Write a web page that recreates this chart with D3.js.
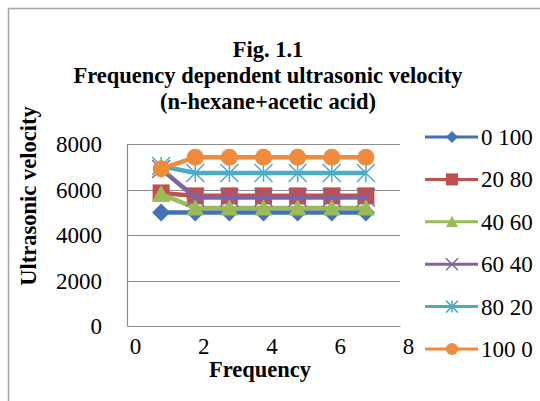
<!DOCTYPE html>
<html><head><meta charset="utf-8">
<script src="https://cdn.jsdelivr.net/npm/d3@7"></script>
<style>html,body{margin:0;padding:0;background:#fff;}svg{display:block;}</style>
</head><body>
<script>
const frequency = [1, 2, 3, 4, 5, 6, 7];
const seriesNames = ["0 100", "20 80", "40 60", "60 40", "80 20", "100 0"];
const v0_100 = [4990, 4990, 4990, 4990, 4990, 4990, 4990];
const v20_80 = [5850, 5720, 5720, 5720, 5720, 5720, 5720];
const v40_60 = [5800, 5190, 5190, 5190, 5190, 5190, 5190];
const v60_40 = [6900, 5650, 5650, 5650, 5650, 5650, 5650];
const v80_20 = [7030, 6725, 6725, 6725, 6725, 6725, 6725];
const v100_0 = [6910, 7420, 7420, 7420, 7420, 7420, 7420];
const xTicks = [0, 2, 4, 6, 8];
const yTicks = [0, 2000, 4000, 6000, 8000];
const titleLines = ["Fig. 1.1", "Frequency dependent ultrasonic velocity", "(n-hexane+acetic acid)"];

const seriesValues = [v0_100, v20_80, v40_60, v60_40, v80_20, v100_0];
const colors = ["#4472B4", "#C0504D", "#9BBB59", "#8064A2", "#4BACC6", "#F08A3C"];
const shapes = ["diamond", "square", "triangle", "x", "star", "circle"];

const W = 540, H = 401;
const svg = d3.select("body").append("svg").attr("width", W).attr("height", H);
svg.append("rect").attr("width", W).attr("height", H).attr("fill", "#fff");
// chart border
svg.append("rect").attr("x", 8.5).attr("y", 8.5).attr("width", W + 10).attr("height", H + 10)
  .attr("fill", "none").attr("stroke", "#a6a6a6").attr("stroke-width", 1.5);

const plot = {left: 127, right: 400, top: 144, bottom: 326};
const x = d3.scaleLinear().domain([0, 8]).range([plot.left, plot.right]);
const y = d3.scaleLinear().domain([0, 8000]).range([plot.bottom, plot.top]);
const font = "'Liberation Serif', 'Times New Roman', serif";

// gridlines
svg.append("g").selectAll("line").data(yTicks.filter(d => d > 0)).join("line")
  .attr("x1", plot.left).attr("x2", plot.right)
  .attr("y1", d => Math.round(y(d)) + 0.5).attr("y2", d => Math.round(y(d)) + 0.5)
  .attr("stroke", "#8c8c8c").attr("stroke-width", 1);

// axes
const yAxis = svg.append("g").attr("transform", `translate(${plot.left},0)`)
  .call(d3.axisLeft(y).tickValues(yTicks).tickFormat(d3.format("d")).tickSize(0).tickPadding(25));
const xAxis = svg.append("g").attr("transform", `translate(0,${plot.bottom})`)
  .call(d3.axisBottom(x).tickValues(xTicks).tickFormat(d3.format("d")).tickSize(0).tickPadding(11));
[yAxis, xAxis].forEach(a => {
  a.attr("font-family", font).attr("font-size", 23);
  a.select(".domain").attr("stroke", "#8c8c8c").attr("stroke-width", 1.2);
  a.selectAll("text").attr("font-family", font).attr("font-size", 23).attr("fill", "#000");
});
yAxis.selectAll("text").attr("dy", "0.33em");
xAxis.selectAll("text").attr("dx", 8).attr("dy", "0.75em");

// titles
const t = svg.append("text").attr("text-anchor", "middle").attr("font-family", font)
  .attr("font-weight", "bold").attr("font-size", 22.5).attr("fill", "#000");
titleLines.forEach((s, i) => t.append("tspan").attr("x", 268).attr("y", 57 + i * 26).text(s));

svg.append("text").attr("x", 260).attr("y", 377).attr("text-anchor", "middle")
  .attr("font-family", font).attr("font-weight", "bold").attr("font-size", 22.5).text("Frequency");
svg.append("text").attr("transform", "translate(36,196) rotate(-90)").attr("text-anchor", "middle")
  .attr("font-family", font).attr("font-weight", "bold").attr("font-size", 22.5).text("Ultrasonic velocity");

function drawMarker(g, shape, cx, cy, h, color) {
  if (shape === "diamond") {
    g.append("path").attr("d", `M${cx},${cy - h}L${cx + h},${cy}L${cx},${cy + h}L${cx - h},${cy}Z`).attr("fill", color);
  } else if (shape === "square") {
    g.append("rect").attr("x", cx - h).attr("y", cy - h).attr("width", 2 * h).attr("height", 2 * h).attr("fill", color);
  } else if (shape === "triangle") {
    g.append("path").attr("d", `M${cx},${cy - h}L${cx + h},${cy + h * 0.85}L${cx - h},${cy + h * 0.85}Z`).attr("fill", color);
  } else if (shape === "x") {
    g.append("path").attr("d", `M${cx - h},${cy - h}L${cx + h},${cy + h}M${cx - h},${cy + h}L${cx + h},${cy - h}`)
      .attr("stroke", color).attr("stroke-width", 1.5).attr("fill", "none");
  } else if (shape === "star") {
    g.append("path").attr("d", `M${cx - h},${cy - h}L${cx + h},${cy + h}M${cx - h},${cy + h}L${cx + h},${cy - h}M${cx},${cy - h}L${cx},${cy + h}`)
      .attr("stroke", color).attr("stroke-width", 1.5).attr("fill", "none");
  } else {
    g.append("circle").attr("cx", cx).attr("cy", cy).attr("r", h).attr("fill", color);
  }
}

const line = d3.line().x(d => x(d[0])).y(d => y(d[1]));
seriesValues.forEach((vals, i) => {
  const g = svg.append("g");
  const pts = frequency.map((f, j) => [f, vals[j]]);
  g.append("path").attr("d", line(pts)).attr("fill", "none").attr("stroke", colors[i])
    .attr("stroke-width", 4.5).attr("stroke-linejoin", "round");
  const h = shapes[i] === "circle" ? 8.5 : (shapes[i] === "square" ? 8.5 : 9);
  pts.forEach(p => drawMarker(g, shapes[i], x(p[0]), y(p[1]), h, colors[i]));
});

// legend
const leg = svg.append("g");
seriesNames.forEach((name, i) => {
  const cy = 137 + i * 42.4;
  leg.append("line").attr("x1", 425).attr("x2", 478).attr("y1", cy).attr("y2", cy)
    .attr("stroke", colors[i]).attr("stroke-width", 3);
  drawMarker(leg, shapes[i], 452, cy, 6, colors[i]);
  leg.append("text").attr("x", 481).attr("y", cy + 8).attr("font-family", font)
    .attr("font-size", 23).attr("fill", "#000").text(name);
});
</script>
</body></html>
